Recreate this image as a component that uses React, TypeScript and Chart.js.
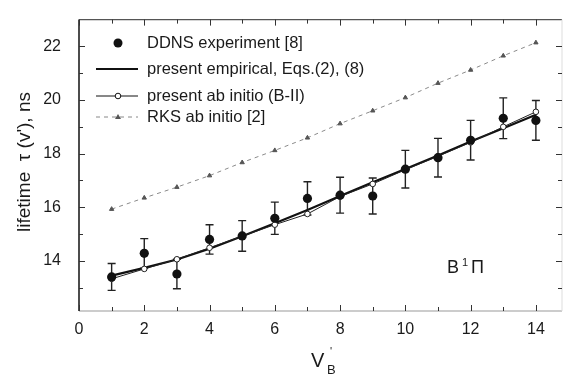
import { useEffect, useRef } from "react";
import { Chart, registerables } from "chart.js";

Chart.register(...registerables);

const vLevels = [1, 2, 3, 4, 5, 6, 7, 8, 9, 10, 11, 12, 13, 14];
const ddnsValues = [13.4, 14.28, 13.51, 14.8, 14.93, 15.59, 16.33, 16.45, 16.42, 17.42, 17.85, 18.5, 19.32, 19.24];
const ddnsErrors = [0.5, 0.55, 0.55, 0.55, 0.57, 0.6, 0.62, 0.67, 0.67, 0.7, 0.72, 0.74, 0.76, 0.74];
const empiricalValues = [13.45, 13.74, 14.05, 14.45, 14.92, 15.4, 15.9, 16.42, 16.93, 17.43, 17.93, 18.45, 18.95, 19.45];
const abInitioValues = [13.33, 13.7, 14.06, 14.49, 14.92, 15.35, 15.75, 16.4, 16.87, 17.4, 17.9, 18.42, 19.0, 19.56];
const rksValues = [15.93, 16.35, 16.75, 17.18, 17.67, 18.12, 18.59, 19.12, 19.6, 20.09, 20.63, 21.12, 21.65, 22.14];
const xTickLabels = [0, 2, 4, 6, 8, 10, 12, 14];
const yTickLabels = [14, 16, 18, 20, 22];
const legendLabels = [
  "DDNS experiment [8]",
  "present empirical, Eqs.(2), (8)",
  "present ab initio (B-II)",
  "RKS ab initio [2]",
];

const FONT = "Arial, 'Liberation Sans', sans-serif";

const decorPlugin = {
  id: "decor",
  beforeDatasetsDraw(chart: any) {
    const ctx = chart.ctx;
    const xs = chart.scales.x;
    const ys = chart.scales.y;
    ctx.save();
    ctx.strokeStyle = "#222";
    ctx.lineWidth = 1.4;
    vLevels.forEach((v, i) => {
      const x = xs.getPixelForValue(v);
      const y1 = ys.getPixelForValue(ddnsValues[i] + ddnsErrors[i]);
      const y2 = ys.getPixelForValue(ddnsValues[i] - ddnsErrors[i]);
      ctx.beginPath();
      ctx.moveTo(x, y1);
      ctx.lineTo(x, y2);
      ctx.moveTo(x - 4, y1);
      ctx.lineTo(x + 4, y1);
      ctx.moveTo(x - 4, y2);
      ctx.lineTo(x + 4, y2);
      ctx.stroke();
    });
    ctx.restore();
  },
  afterDraw(chart: any) {
    const ctx = chart.ctx;
    const xs = chart.scales.x;
    const ys = chart.scales.y;
    const a = chart.chartArea;
    ctx.save();
    // borders
    ctx.lineWidth = 1.5;
    ctx.strokeStyle = "#111";
    ctx.beginPath();
    ctx.moveTo(a.left, a.top);
    ctx.lineTo(a.left, a.bottom);
    ctx.stroke();
    ctx.strokeStyle = "#555";
    ctx.lineWidth = 1.2;
    ctx.beginPath();
    ctx.moveTo(a.left, a.top);
    ctx.lineTo(a.right, a.top);
    ctx.stroke();
    ctx.strokeStyle = "#999";
    ctx.lineWidth = 1;
    ctx.beginPath();
    ctx.moveTo(a.left, a.bottom);
    ctx.lineTo(a.right, a.bottom);
    ctx.stroke();
    ctx.strokeStyle = "#ddd";
    ctx.beginPath();
    ctx.moveTo(a.right, a.top);
    ctx.lineTo(a.right, a.bottom);
    ctx.stroke();
    // ticks
    ctx.strokeStyle = "#333";
    ctx.lineWidth = 1;
    for (let v = 0; v <= 14; v++) {
      const x = Math.round(xs.getPixelForValue(v)) + 0.5;
      const len = v % 2 === 0 ? 6 : 4;
      ctx.beginPath();
      ctx.moveTo(x, a.bottom);
      ctx.lineTo(x, a.bottom - len);
      ctx.moveTo(x, a.top);
      ctx.lineTo(x, a.top + len);
      ctx.stroke();
    }
    for (let v = 13; v <= 22; v++) {
      const y = Math.round(ys.getPixelForValue(v)) + 0.5;
      const len = v % 2 === 0 ? 6 : 4;
      ctx.beginPath();
      ctx.moveTo(a.left, y);
      ctx.lineTo(a.left + len, y);
      ctx.moveTo(a.right, y);
      ctx.lineTo(a.right - len, y);
      ctx.stroke();
    }
    // legend
    const lx = 100;
    const lx2 = 138;
    const mx = 118;
    const tx = 147;
    const rows = [43, 69, 96, 117];
    ctx.fillStyle = "#111";
    ctx.beginPath();
    ctx.arc(mx, rows[0], 4.5, 0, Math.PI * 2);
    ctx.fill();
    ctx.strokeStyle = "#111";
    ctx.lineWidth = 1.8;
    ctx.beginPath();
    ctx.moveTo(lx - 4, rows[1]);
    ctx.lineTo(lx2, rows[1]);
    ctx.stroke();
    ctx.lineWidth = 1;
    ctx.beginPath();
    ctx.moveTo(lx - 4, rows[2]);
    ctx.lineTo(lx2, rows[2]);
    ctx.stroke();
    ctx.fillStyle = "#fff";
    ctx.beginPath();
    ctx.arc(mx, rows[2], 2.8, 0, Math.PI * 2);
    ctx.fill();
    ctx.stroke();
    ctx.strokeStyle = "#888";
    ctx.setLineDash([4, 4]);
    ctx.beginPath();
    ctx.moveTo(lx - 4, rows[3]);
    ctx.lineTo(lx2, rows[3]);
    ctx.stroke();
    ctx.setLineDash([]);
    ctx.fillStyle = "#555";
    ctx.beginPath();
    ctx.moveTo(mx, rows[3] - 3);
    ctx.lineTo(mx + 3, rows[3] + 2);
    ctx.lineTo(mx - 3, rows[3] + 2);
    ctx.closePath();
    ctx.fill();
    ctx.fillStyle = "#1a1a1a";
    ctx.font = `16.5px ${FONT}`;
    ctx.textAlign = "left";
    ctx.textBaseline = "middle";
    legendLabels.forEach((t, i) => ctx.fillText(t, tx, rows[i]));
    // annotation B¹Π
    ctx.textBaseline = "alphabetic";
    ctx.font = `18px ${FONT}`;
    ctx.fillText("B", 447, 273);
    ctx.font = `11px ${FONT}`;
    ctx.fillText("1", 462, 266);
    ctx.font = `18px ${FONT}`;
    ctx.fillText("Π", 471, 273);
    // y title
    ctx.save();
    ctx.translate(25, 162);
    ctx.rotate(-Math.PI / 2);
    ctx.textAlign = "center";
    ctx.textBaseline = "middle";
    ctx.font = `19px ${FONT}`;
    ctx.fillText("lifetime  τ (v'), ns", 0, 0);
    ctx.restore();
    // x title
    ctx.textAlign = "left";
    ctx.font = `20px ${FONT}`;
    ctx.fillText("V", 311, 367);
    ctx.font = `11px ${FONT}`;
    ctx.fillText("'", 330, 355);
    ctx.font = `13px ${FONT}`;
    ctx.fillText("B", 327, 374);
    ctx.restore();
  },
};

export default function App() {
  const ref = useRef<HTMLCanvasElement>(null);
  useEffect(() => {
    const pts = (vals: number[]) => vLevels.map((v, i) => ({ x: v, y: vals[i] }));
    const chart = new Chart(ref.current!, {
      type: "scatter",
      data: {
        datasets: [
          {
            label: legendLabels[0],
            data: pts(ddnsValues),
            showLine: false,
            pointRadius: 4.6,
            pointBackgroundColor: "#111",
            pointBorderColor: "#111",
            pointBorderWidth: 0,
          },
          {
            label: legendLabels[2],
            data: pts(abInitioValues),
            showLine: true,
            borderColor: "#222",
            borderWidth: 1,
            pointRadius: 2.8,
            pointBackgroundColor: "#fff",
            pointBorderColor: "#222",
            pointBorderWidth: 1,
          },
          {
            label: legendLabels[1],
            data: pts(empiricalValues),
            showLine: true,
            borderColor: "#111",
            borderWidth: 2.2,
            pointRadius: 0,
          },
          {
            label: legendLabels[3],
            data: pts(rksValues),
            showLine: true,
            borderColor: "#8a8a8a",
            borderWidth: 1,
            borderDash: [4, 4],
            pointStyle: "triangle",
            pointRadius: 2.5,
            pointBackgroundColor: "#555",
            pointBorderColor: "#555",
          },
        ] as any,
      },
      options: {
        responsive: false,
        animation: false,
        layout: { padding: { top: 15, right: 4, left: 0, bottom: 0 } },
        plugins: { legend: { display: false }, tooltip: { enabled: false } },
        scales: {
          x: {
            type: "linear",
            position: "bottom",
            min: 0,
            max: 14.8,
            afterBuildTicks: (s: any) => {
              s.ticks = xTickLabels.map((v) => ({ value: v }));
            },
            afterFit: (s: any) => {
              s.height = 63;
            },
            grid: { display: false },
            border: { display: false },
            ticks: {
              font: { size: 16, family: FONT },
              color: "#1a1a1a",
              padding: 1,
              maxRotation: 0,
              autoSkip: false,
              callback: (v: any) => String(v),
            },
          },
          y: {
            type: "linear",
            min: 12.13,
            max: 23,
            afterBuildTicks: (s: any) => {
              s.ticks = yTickLabels.map((v) => ({ value: v }));
            },
            afterFit: (s: any) => {
              s.width = 79;
            },
            grid: { display: false },
            border: { display: false },
            ticks: {
              font: { size: 16, family: FONT },
              color: "#1a1a1a",
              padding: 10,
              autoSkip: false,
              callback: (v: any) => String(v),
            },
          },
        },
      },
      plugins: [decorPlugin],
    });
    return () => chart.destroy();
  }, []);
  return (
    <div style={{ position: "fixed", left: 0, top: 0, width: 567, height: 374, background: "#fff" }}>
      <canvas ref={ref} width={567} height={374} style={{ display: "block" }} />
    </div>
  );
}
